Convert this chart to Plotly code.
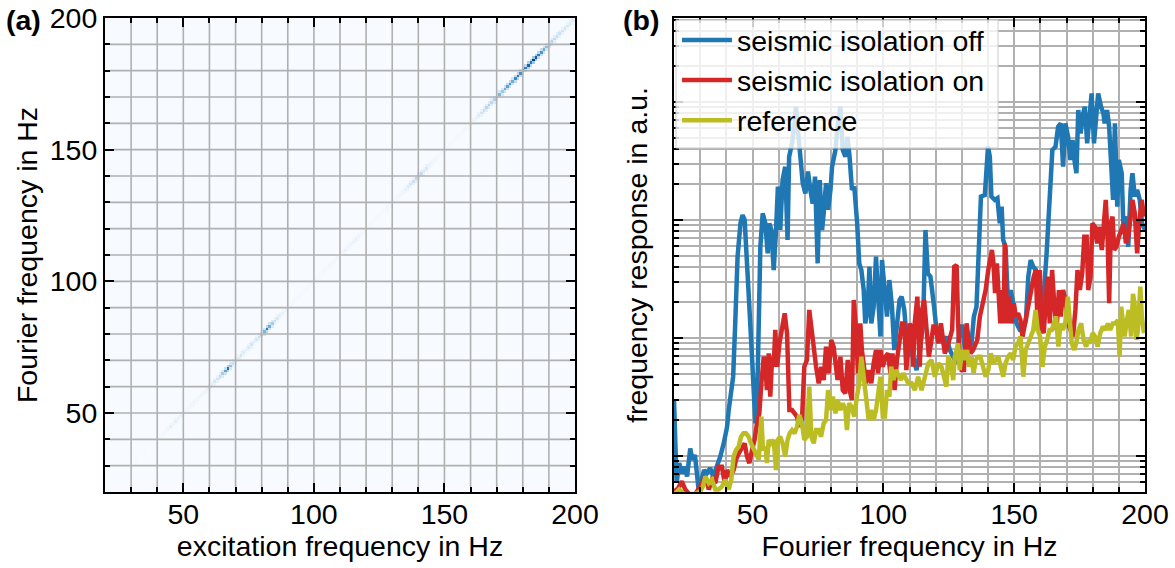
import plotly.graph_objects as go

# ---------------- panel (a): excitation vs Fourier frequency ----------------
excitation_hz = list(range(20, 201))
diag_amplitude = [
    0.00, 0.00, 0.00, 0.00, 0.00, 0.00, 0.00, 0.00, 0.00, 0.00,
    0.00, 0.00, 0.01, 0.00, 0.00, 0.01, 0.00, 0.00, 0.01, 0.00,
    0.01, 0.01, 0.02, 0.03, 0.04, 0.08, 0.06, 0.10, 0.07, 0.08,
    0.05, 0.04, 0.03, 0.04, 0.05, 0.03, 0.04, 0.06, 0.05, 0.07,
    0.12, 0.10, 0.15, 0.18, 0.25, 0.35, 0.55, 0.75, 0.40, 0.22,
    0.15, 0.12, 0.16, 0.12, 0.10, 0.14, 0.18, 0.12, 0.16, 0.22,
    0.30, 0.45, 0.70, 0.50, 0.35, 0.22, 0.15, 0.10, 0.07, 0.05,
    0.03, 0.02, 0.03, 0.02, 0.02, 0.02, 0.02, 0.02, 0.02, 0.02,
    0.02, 0.02, 0.02, 0.02, 0.03, 0.02, 0.03, 0.03, 0.03, 0.04,
    0.06, 0.05, 0.08, 0.06, 0.05, 0.07, 0.08, 0.05, 0.04, 0.03,
    0.02, 0.02, 0.02, 0.02, 0.02, 0.02, 0.02, 0.02, 0.03, 0.02,
    0.02, 0.03, 0.03, 0.04, 0.06, 0.08, 0.12, 0.18, 0.20, 0.28,
    0.32, 0.25, 0.16, 0.14, 0.08, 0.06, 0.04, 0.03, 0.02, 0.02,
    0.02, 0.02, 0.02, 0.02, 0.02, 0.03, 0.02, 0.03, 0.04, 0.03,
    0.05, 0.06, 0.08, 0.12, 0.18, 0.22, 0.28, 0.32, 0.26, 0.32,
    0.40, 0.45, 0.38, 0.50, 0.55, 0.60, 0.50, 0.65, 0.70, 0.62,
    0.75, 0.68, 0.80, 0.72, 0.95, 0.85, 0.70, 0.60, 0.50, 0.42,
    0.35, 0.30, 0.25, 0.22, 0.20, 0.18, 0.16, 0.15, 0.14, 0.12,
    0.10,
]
axis_ticks = [50, 100, 150, 200]

# ---------------- panel (b): frequency responses ----------------
f_off = [20, 21, 22, 23, 24, 25, 26.2, 27, 28, 29.4, 30.5, 31.5, 32.5, 33.8, 35, 36.5, 37.7, 39, 40.3, 40.9,
         41.9, 42.6, 43.4, 44.3, 45.4, 46.2, 47, 47.9, 48.8, 49.8, 50.4, 51.1, 51.7, 52.4, 53, 53.9, 54.9, 55.8, 56.4, 57.2,
         58.1, 59, 59.7, 60.6, 61.5, 62.5, 63.4, 64, 65.1, 66.1, 66.6, 67.5, 68.3, 69.2, 70.2, 71.2, 72.1, 73, 73.9, 74.9,
         75.7, 76.6, 77.2, 78.1, 78.9, 79.8, 80.4, 81.7, 82.5, 83.6, 84.5, 85.5, 86.3, 87.1, 88, 88.9, 90, 90.8, 91.6, 92.5,
         93.1, 94, 94.7, 95.4, 96.3, 97.2, 98, 98.9, 99.5, 100.5, 101.4, 102.3, 103.3, 104.2, 105.2, 106.2, 107, 108, 109.5, 110.7,
         112.7, 114, 115.2, 116.1, 117, 118, 119.4, 120.3, 121.6, 122.9, 124.1, 125.4, 126.7, 128, 129.2, 130.1, 131.1, 132.4, 133.7, 134.6,
         135.6, 136.5, 137.3, 138.8, 140, 140.7, 141.3, 142.6, 143.6, 144.5, 145.2, 145.8, 146.7, 147.7, 148.7, 149.6, 150.9, 152.2, 153.4, 154.5,
         155.4, 156.3, 157.3, 158.3, 159.2, 160.1, 161.1, 162.4, 163.2, 163.9, 164.6, 165.8, 166.8, 167.8, 168.7, 169.6, 170.6, 171.5, 172.3, 173.2,
         173.8, 174.5, 175.4, 176.1, 177, 177.9, 178.7, 179.6, 180.5, 181.3, 182.1, 183.2, 184.1, 184.6, 185.5, 186.3, 187.2, 187.8, 188.5, 189.4,
         190, 191.1, 191.7, 192.6, 193.6, 194.5, 195.2, 196.1, 197, 198, 198.9, 200]
resp_off = [2.98, 0.59, 0.87, 0.71, 0.81, 0.67, 1.16, 0.93, 1.02, 0.52, 0.63, 0.76, 0.71, 0.79, 0.67, 0.81, 0.99, 1.28, 1.77, 2.45,
            3.62, 4.70, 13.3, 48.9, 93.7, 110, 100, 35.3, 18.4, 6.95, 3.62, 1.89, 2.45, 13.3, 59.4, 114, 93.7, 52.2, 93.7, 82.3,
            37.7, 82.3, 192, 82.3, 218, 283, 67.7, 344, 446, 659, 913, 542, 344, 205, 168, 257, 180, 138, 233, 42.9,
            218, 82.3, 114, 205, 122, 180, 283, 392, 618, 913, 392, 344, 508, 344, 180, 192, 93.7, 42.9, 37.7, 25.5,
            13.3, 17.3, 40.2, 13.3, 18.4, 48.9, 22.4, 10.3, 45.8, 22.4, 15.2, 31.0, 18.4, 7.91, 13.3, 21.0, 22.4, 17.3, 6.95, 7.91,
            5.35, 7.91, 13.3, 82.3, 35.3, 33.1, 18.4, 11.7, 10.3, 9.01, 10.3, 7.91, 6.95, 6.10, 12.5, 12.5, 8.45, 7.91, 9.01, 15.2,
            18.4, 77.1, 158, 163, 418, 344, 158, 148, 153, 93.7, 130, 67.7, 59.4, 18.4, 25.5, 19.7, 13.3, 11.7, 11.7, 14.2,
            33.1, 45.8, 40.2, 37.7, 25.5, 11.7, 19.7, 52.2, 100, 218, 392, 418, 618, 659, 283, 659, 508, 323, 476, 302,
            249, 855, 542, 751, 913, 446, 751, 1184, 446, 855, 1184, 913, 800, 659, 855, 618, 233, 148, 659, 130,
            323, 249, 93.7, 107, 59.4, 180, 249, 158, 180, 148, 93.7, 82.3]

f_on = [20, 21.5, 23, 24.3, 26, 28, 30.7, 32, 33.3, 34.5, 35.8, 37, 38.3, 39.4, 40.3, 41.5, 42.8, 43.7, 44.7, 46,
        47, 47.9, 48.8, 49.8, 50.8, 51.7, 52.6, 53.4, 54.3, 54.9, 55.5, 56.2, 56.8, 57.5, 58.1, 58.7, 59.4, 60.3, 61.3, 62.3,
        63.2, 64.1, 65.1, 66.1, 67, 67.9, 68.9, 69.8, 70.8, 71.7, 72.5, 73.4, 74.3, 75.3, 76.3, 77.2, 78.1, 79.1, 80.1, 81,
        81.9, 82.5, 83.6, 84.5, 85.5, 86.4, 87.4, 88, 88.7, 89.6, 90.3, 91.2, 91.8, 92.6, 93.4, 94.4, 95.4, 96.3, 97.2, 98,
        98.9, 99.8, 100.8, 101.8, 102.7, 103.5, 104.3, 105.2, 106, 107.1, 108, 108.8, 109.5, 110.1, 110.8, 111.4, 112, 113, 113.9, 114.8,
        115.6, 116.5, 117.4, 118.2, 119.1, 120, 121, 122, 122.9, 123.5, 124.5, 125.4, 126.3, 127.1, 128, 128.6, 129.2, 129.9, 130.8, 131.8,
        132.4, 133.3, 134.3, 135.2, 135.9, 136.9, 138.4, 139.1, 140.1, 141.5, 142.1, 142.7, 143.4, 144, 144.7, 145.3, 146, 146.4, 147.3, 148.1,
        149, 149.9, 150.6, 151.5, 152.4, 153.2, 154.1, 155, 155.7, 156.6, 157.5, 158.3, 158.9, 159.8, 160.4, 161.3, 162.1, 162.7, 163.6, 164.5,
        165.3, 166.2, 167.1, 167.8, 168.7, 169.6, 170.6, 171.5, 172.5, 173.4, 174.2, 175.1, 176, 176.8, 177.7, 178.3, 179.2, 179.9, 180.8, 181.7,
        182.4, 183.5, 184.3, 185, 185.7, 186.3, 187, 187.6, 188.2, 189.1, 190, 191, 191.9, 192.7, 193.6, 194.5, 195.2, 196.1, 197, 197.8,
        198.7, 199.7]
resp_on = [0.50, 0.53, 0.61, 0.52, 0.47, 0.47, 0.59, 0.67, 0.52, 0.63, 0.59, 0.81, 0.81, 0.59, 0.76, 0.67, 0.76, 0.93, 1.05, 1.20,
           1.28, 0.99, 0.87, 1.12, 1.37, 1.89, 2.30, 4.13, 6.95, 6.10, 3.62, 7.41, 3.18, 6.95, 5.71, 11.7, 5.71, 9.01, 12.5, 16.2,
           11.0, 2.45, 2.45, 2.30, 2.16, 1.77, 2.02, 5.71, 6.51, 17.3, 11.7, 7.41, 5.71, 4.13, 5.71, 4.40, 8.45, 5.02, 9.62, 8.45,
           5.71, 4.40, 6.95, 3.62, 3.40, 6.51, 3.40, 2.98, 21.0, 11.7, 5.02, 13.3, 7.91, 5.35, 4.13, 5.35, 4.13, 6.10, 7.91, 5.02,
           7.91, 5.71, 6.95, 7.41, 5.02, 7.41, 3.62, 6.51, 9.01, 13.3, 13.3, 5.35, 9.01, 13.3, 11.7, 5.71, 13.3, 22.4, 5.71, 17.3,
           21.0, 11.7, 6.95, 9.01, 12.5, 12.5, 9.01, 13.3, 9.01, 7.41, 8.45, 10.3, 11.7, 40.2, 41.5, 13.3, 6.10, 5.35, 5.35, 13.3,
           10.3, 7.41, 7.91, 9.01, 9.62, 15.2, 22.4, 25.5, 37.7, 55.7, 42.9, 24.0, 42.9, 19.7, 13.3, 25.5, 13.3, 63.4, 13.3, 22.4,
           13.3, 19.7, 15.2, 16.2, 14.2, 10.3, 13.3, 17.3, 22.4, 27.2, 33.1, 37.7, 13.3, 37.7, 12.5, 11.0, 18.4, 33.1, 13.3, 37.7,
           19.7, 11.7, 25.5, 15.2, 25.5, 21.0, 13.3, 11.7, 10.3, 17.3, 37.7, 25.5, 35.3, 72.2, 72.2, 25.5, 33.1, 93.7, 87.8, 63.4,
           87.8, 55.7, 93.7, 148, 72.2, 19.7, 93.7, 107, 55.7, 59.4, 72.2, 82.3, 93.7, 63.4, 72.2, 107, 148, 114, 52.2, 93.7,
           148, 107]

f_ref = [20, 22, 24, 26, 28, 30, 31, 32, 33.3, 34.5, 35.8, 37, 38.3, 39.6, 40.9, 41.9, 42.8, 43.7, 44.7, 45.6,
         46.6, 47.5, 48.5, 49.4, 50.4, 51.3, 52.4, 53.4, 54, 55, 55.5, 56.2, 57, 58.1, 59, 59.7, 60.6, 61.5, 62.5, 63.4,
         64.2, 65.1, 66.1, 67, 67.9, 68.9, 69.8, 70.8, 71.7, 72.5, 73.4, 74.3, 75.3, 76.2, 77.2, 78.1, 78.9, 79.8, 80.7, 81.7,
         82.5, 83.6, 84.5, 85.5, 86.1, 86.9, 87.9, 88.9, 89.9, 90.8, 91.6, 92.5, 93.4, 94.4, 95.3, 96.3, 97.2, 98, 98.9, 99.8,
         100.6, 101.4, 102.3, 103, 103.9, 104.8, 105.8, 106.7, 107.6, 108.2, 109.5, 110.8, 112, 113.3, 114.6, 115.9, 117.2, 118.4, 119.7, 121,
         122.2, 123.5, 124.1, 124.8, 125.8, 126.7, 127.3, 128, 128.6, 129.2, 130.1, 131.1, 132, 132.8, 133.7, 134.5, 135.3, 136.2, 137.1, 138.1,
         139.1, 140.1, 141.1, 142, 142.9, 143.9, 144.9, 145.8, 146.7, 147.7, 148.7, 149.6, 150.5, 151.5, 152.4, 153.5, 154.4, 155.4, 156.4, 157.3,
         158.2, 159, 159.9, 160.8, 161.7, 162.6, 163.5, 164.4, 165.1, 166, 166.9, 167.7, 168.6, 169.5, 170.5, 171.1, 172, 173, 173.7, 174.6,
         175.6, 176.5, 177.5, 178.2, 179, 180, 180.9, 181.9, 182.9, 183.9, 184.9, 185.8, 186.7, 187.7, 188.6, 189.6, 190.3, 190.9, 191.6, 192.2,
         193.1, 193.8, 194.7, 195.4, 196, 196.7, 197.3, 198.2, 198.8, 199.6]
resp_ref = [0.47, 0.52, 0.47, 0.47, 0.48, 0.50, 0.55, 0.67, 0.59, 0.63, 0.52, 0.52, 0.55, 0.63, 0.52, 0.63, 0.99, 1.12, 1.20, 1.46,
            1.56, 1.56, 1.46, 1.28, 1.12, 1.05, 0.93, 2.16, 1.12, 1.20, 0.87, 1.37, 1.28, 1.37, 0.76, 1.37, 1.46, 1.28, 0.99, 1.37,
            1.56, 1.66, 1.56, 1.77, 2.23, 1.89, 1.37, 1.46, 3.87, 1.46, 1.28, 1.66, 1.66, 1.46, 1.89, 2.02, 3.62, 2.45, 3.18, 2.30,
            2.98, 2.45, 2.80, 2.45, 1.66, 2.80, 2.62, 2.16, 3.18, 4.13, 6.95, 4.70, 3.18, 2.02, 2.45, 2.02, 2.45, 3.62, 4.70, 2.16,
            2.16, 3.62, 3.18, 5.71, 4.40, 5.35, 4.70, 4.40, 5.02, 4.70, 4.13, 4.13, 3.62, 4.70, 3.62, 4.70, 6.10, 6.51, 4.70, 6.10,
            5.71, 4.40, 3.87, 6.95, 6.10, 4.40, 6.95, 7.91, 9.01, 5.35, 7.91, 6.51, 7.91, 5.71, 6.95, 5.02, 6.51, 6.95, 6.95, 5.71,
            4.70, 5.35, 7.41, 6.10, 6.51, 6.95, 5.71, 4.70, 6.10, 6.95, 7.41, 6.51, 8.45, 9.01, 10.3, 4.70, 7.91, 9.01, 10.3, 11.7,
            17.3, 11.7, 10.3, 5.71, 8.45, 9.62, 11.7, 11.7, 13.3, 15.2, 8.45, 13.3, 11.7, 13.3, 22.4, 14.2, 9.01, 7.91, 9.01, 11.7,
            13.3, 9.62, 8.45, 9.62, 9.01, 11.0, 10.3, 8.45, 11.0, 12.5, 11.7, 13.3, 11.7, 13.3, 13.3, 14.2, 6.95, 18.4, 13.3, 10.3,
            14.2, 17.3, 10.3, 23.7, 19.7, 9.62, 11.7, 27.2, 15.2, 11.0]

for a, b, n in [(f_off, resp_off, "off"), (f_on, resp_on, "on"), (f_ref, resp_ref, "ref")]:
    if len(a) != len(b):
        raise SystemExit(f"length mismatch {n}: {len(a)} vs {len(b)}")

series_names = ["seismic isolation off", "seismic isolation on", "reference"]
series_colors = ["#1f77b4", "#d62728", "#bcbd22"]

# ---------------- figure ----------------
FONT = "Liberation Sans, Arial, sans-serif"
FS = 28.5
GRID = "#b0b0b0"
W, H = 1175, 568
txt = dict(family=FONT, size=FS, color="black")

xa = (105 / W, 575 / W)
xb = (674 / W, 1145 / W)
yd = ((H - 492) / H, (H - 18) / H)

fig = go.Figure()

# heatmap table built from the diagonal amplitudes (line slightly blurred as in the image)
n = len(excitation_hz)
z = [[0.0] * n for _ in range(n)]
for i, a in enumerate(diag_amplitude):
    z[i][i] = max(z[i][i], a)
    for j in (i - 1, i + 1):
        if 0 <= j < n:
            z[j][i] = max(z[j][i], 0.4 * a)
fig.add_trace(go.Heatmap(x=excitation_hz, y=excitation_hz, z=z, colorscale="Blues", zmin=0, zmax=1,
                         showscale=False, xaxis="x", yaxis="y"))

for (fx, fy), name, col in zip([(f_off, resp_off), (f_on, resp_on), (f_ref, resp_ref)], series_names, series_colors):
    fig.add_trace(go.Scatter(x=fx, y=fy, mode="lines", name=name, legendgroup=name,
                             line=dict(color=col, width=4.5), xaxis="x2", yaxis="y2"))

def lin_axis(domain, grid=True, **kw):
    d = dict(domain=domain, range=[20, 200], tickvals=axis_ticks, ticks="inside", ticklen=9, tickwidth=2,
             tickcolor="black", showline=True, linecolor="black", linewidth=2, mirror="ticks",
             showgrid=grid, gridcolor=GRID, gridwidth=1.6, zeroline=False, tickfont=txt, automargin=False,
             minor=dict(dtick=10, tick0=0, ticks="inside", ticklen=5, tickwidth=1.5, tickcolor="black",
                        showgrid=grid, gridcolor=GRID, gridwidth=1.6))
    d.update(kw)
    return d

# grid of panel (a) is drawn over the image (as in the original), stopping at the inward ticks
px_x = 180 / ((xa[1] - xa[0]) * W)
px_y = 180 / ((yd[1] - yd[0]) * H)
shapes = []
for v in range(30, 200, 10):
    L = 9 if v in axis_ticks else 5
    shapes.append(dict(type="line", xref="x", yref="y", x0=v, x1=v, y0=20 + L * px_y, y1=200 - L * px_y,
                       layer="above", line=dict(color=GRID, width=1.6)))
    shapes.append(dict(type="line", xref="x", yref="y", y0=v, y1=v, x0=20 + L * px_x, x1=200 - L * px_x,
                       layer="above", line=dict(color=GRID, width=1.6)))

# legend frame (semi-transparent white box) of panel (b)
shapes.append(dict(type="rect", xref="paper", yref="paper", x0=676 / W, x1=998 / W, y0=(H - 148) / H, y1=(H - 20) / H,
                   layer="above", fillcolor="rgba(255,255,255,0.8)", line=dict(color="#cccccc", width=1)))

minor_log = [m * 10 ** k for k in range(-1, 4) for m in range(2, 10)]

fig.update_layout(
    width=W, height=H, margin=dict(l=0, r=0, t=0, b=0, autoexpand=False),
    paper_bgcolor="white", plot_bgcolor="white",
    font=txt,
    xaxis=lin_axis(xa, grid=False, anchor="y", ticklabelstandoff=-4,
                   title=dict(text="excitation frequency in Hz", standoff=6, font=txt)),
    yaxis=lin_axis(yd, grid=False, anchor="x", title=dict(text="Fourier frequency in Hz", standoff=4, font=txt)),
    xaxis2=lin_axis(xb, anchor="y2", ticklabelstandoff=-4,
                    title=dict(text="Fourier frequency in Hz", standoff=6, font=txt)),
    yaxis2=dict(domain=yd, anchor="x2", type="log", range=[-0.305, 3.712], dtick=1, showticklabels=False,
                ticks="inside", ticklen=9, tickwidth=2, tickcolor="black", showline=True, linecolor="black",
                linewidth=2, mirror="ticks", showgrid=True, gridcolor=GRID, gridwidth=1.6, zeroline=False,
                automargin=False,
                title=dict(text="frequency response in a.u.", standoff=16, font=txt),
                minor=dict(tickmode="array", tickvals=minor_log, ticks="inside", ticklen=5, tickwidth=1.5,
                           tickcolor="black", showgrid=True, gridcolor=GRID, gridwidth=1.6)),
    legend=dict(x=677 / W, y=(H - 15) / H, xanchor="left", yanchor="top",
                bgcolor="rgba(0,0,0,0)", borderwidth=0,
                font=txt, tracegroupgap=0, itemwidth=50),
    shapes=shapes,
    annotations=[
        dict(text="<b>(a)</b>", xref="paper", yref="paper", x=4 / W, y=(H - 20) / H, xanchor="left",
             yanchor="middle", showarrow=False, font=txt),
        dict(text="<b>(b)</b>", xref="paper", yref="paper", x=621 / W, y=(H - 20) / H, xanchor="left",
             yanchor="middle", showarrow=False, font=txt),
    ],
)

fig.write_html("out.html")
